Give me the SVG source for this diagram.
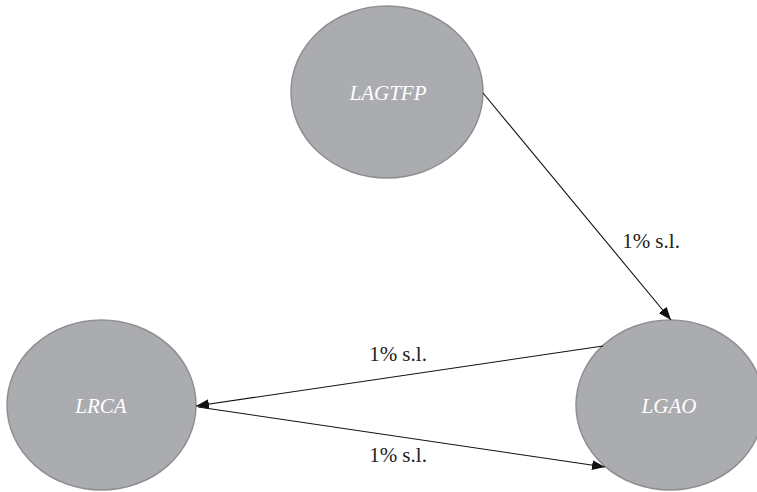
<svg xmlns="http://www.w3.org/2000/svg" width="757" height="492" viewBox="0 0 757 492">
<defs>
<marker id="arr" markerWidth="13" markerHeight="10" refX="13" refY="5" orient="auto" markerUnits="userSpaceOnUse">
<path d="M0,0 L13,5 L0,10 Z" fill="#111"/>
</marker>
<style>
.node ellipse{fill:#abacaf;stroke:#8e8f92;stroke-width:1.5}
.node text{fill:#fff;font-family:"Liberation Serif","Times New Roman",serif;font-style:italic;font-size:21px;text-anchor:middle}
.edge line{stroke:#111;stroke-width:1.1;marker-end:url(#arr)}
.lbl{fill:#222;font-family:"Liberation Serif","Times New Roman",serif;font-size:21px;text-anchor:middle}
</style>
</defs>
<rect width="757" height="492" fill="#fff"/>
<g id="n-LAGTFP" class="node">
<ellipse cx="387" cy="92" rx="96" ry="86"/>
<text x="388" y="100">LAGTFP</text>
</g>
<g id="n-LRCA" class="node">
<ellipse cx="101.5" cy="405" rx="94.5" ry="85"/>
<text x="101" y="413">LRCA</text>
</g>
<g id="n-LGAO" class="node">
<ellipse cx="670" cy="405" rx="94" ry="85"/>
<text x="669" y="413">LGAO</text>
</g>
<g id="connectors">
<g class="edge"><line x1="483" y1="93" x2="671" y2="320"/></g>
<g class="edge"><line x1="603" y1="346" x2="196" y2="406"/></g>
<g class="edge"><line x1="198" y1="407" x2="605" y2="467"/></g>
<text class="lbl" x="651" y="248">1% s.l.</text>
<text class="lbl" x="398" y="361">1% s.l.</text>
<text class="lbl" x="398" y="462">1% s.l.</text>
</g>
</svg>
